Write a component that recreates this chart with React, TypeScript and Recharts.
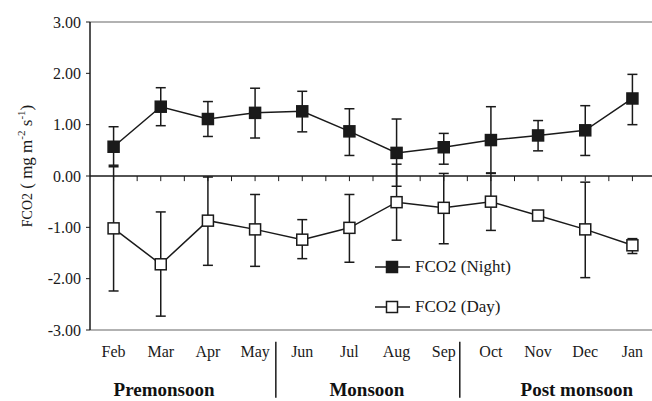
import React from 'react';
import {
  ComposedChart,
  Line,
  XAxis,
  YAxis,
  ErrorBar,
  ReferenceLine,
  ReferenceDot,
  Legend,
} from 'recharts';

const SERIF = '"Liberation Serif", "DejaVu Serif", serif';
const INK = '#1a1a1a';

const months = ['Feb', 'Mar', 'Apr', 'May', 'Jun', 'Jul', 'Aug', 'Sep', 'Oct', 'Nov', 'Dec', 'Jan'];

// night flux (filled squares) with the ends of its error bars
const nightMean = [0.57, 1.35, 1.11, 1.23, 1.26, 0.87, 0.45, 0.56, 0.7, 0.79, 0.89, 1.51];
const nightLow = [0.21, 0.98, 0.77, 0.74, 0.86, 0.4, -0.2, 0.23, 0.05, 0.49, 0.4, 1.0];
const nightHigh = [0.96, 1.72, 1.45, 1.71, 1.65, 1.31, 1.11, 0.83, 1.35, 1.08, 1.37, 1.98];

// day flux (open squares)
const dayMean = [-1.02, -1.72, -0.87, -1.04, -1.24, -1.01, -0.51, -0.62, -0.5, -0.77, -1.04, -1.35];
const dayLow = [-2.24, -2.73, -1.74, -1.76, -1.61, -1.68, -1.25, -1.32, -1.06, -0.82, -1.98, -1.51];
const dayHigh = [0.18, -0.7, -0.02, -0.36, -0.85, -0.36, 0.23, 0.05, 0.06, -0.72, -0.12, -1.22];

const yTicks = [-3, -2, -1, 0, 1, 2, 3];

// season captions under the month labels (position in month units)
const seasons = [
  { name: 'Premonsoon', at: 1.07 },
  { name: 'Monsoon', at: 5.37 },
  { name: 'Post monsoon', at: 9.82 },
];
const seasonDividers = [3.44, 7.34];

const data = months.map((m, i) => ({
  i,
  month: m,
  night: nightMean[i],
  nightErr: [nightMean[i] - nightLow[i], nightHigh[i] - nightMean[i]],
  day: dayMean[i],
  dayErr: [dayMean[i] - dayLow[i], dayHigh[i] - dayMean[i]],
}));

// small tick marks along the zero line, at month centres and boundaries
const zeroTicks = months.flatMap((_, i) => (i === 0 ? [i] : [i - 0.5, i]));

const series = [
  { key: 'night', name: 'FCO2 (Night)', fill: INK },
  { key: 'day', name: 'FCO2 (Day)', fill: '#fff' },
];

function squareDot(fill: string) {
  return (props: any) => {
    const { cx, cy, index } = props;
    if (cx == null || cy == null) return <g key={`e-${index}`} />;
    return (
      <rect
        key={`${fill}-${index}`}
        x={cx - 5.5}
        y={cy - 5.5}
        width={11}
        height={11}
        fill={fill}
        stroke={INK}
        strokeWidth={1.5}
      />
    );
  };
}

function YLabel(props: any) {
  const vb = props.viewBox || { x: 0, y: 22, width: 90, height: 308 };
  const x = vb.x + 32;
  const y = vb.y + vb.height / 2 - 10;
  return (
    <text
      x={x}
      y={y}
      transform={`rotate(-90, ${x}, ${y})`}
      textAnchor="middle"
      fill={INK}
      style={{ whiteSpace: 'pre', fontFamily: SERIF }}
    >
      <tspan fontSize={14}>FCO2</tspan>
      <tspan fontSize={17}> ( mg m</tspan>
      <tspan fontSize={11} dy={-7}>-2</tspan>
      <tspan fontSize={17} dy={7}> s</tspan>
      <tspan fontSize={11} dy={-7}>-1</tspan>
      <tspan fontSize={17} dy={7}>)</tspan>
    </text>
  );
}

function LegendBox() {
  return (
    <div style={{ fontFamily: SERIF }}>
      {series.map((s) => (
        <div key={s.key} style={{ display: 'flex', alignItems: 'center', height: 40 }}>
          <svg width={40} height={20}>
            <line x1={1} y1={10} x2={36} y2={10} stroke={INK} strokeWidth={1.5} />
            <rect x={12.5} y={4.5} width={11} height={11} fill={s.fill} stroke={INK} strokeWidth={1.5} />
          </svg>
          <span style={{ fontSize: 17, color: INK, marginLeft: 1, fontFamily: SERIF }}>{s.name}</span>
        </div>
      ))}
    </div>
  );
}

export default function App() {
  return (
    <div
      style={{
        position: 'absolute',
        left: 0,
        top: 0,
        width: 652,
        height: 401,
        overflow: 'hidden',
        background: '#fff',
        fontFamily: SERIF,
      }}
    >
      <ComposedChart width={656} height={401} data={data} margin={{ top: 22, right: 0, bottom: 0, left: 0 }}>
        <XAxis
          type="number"
          dataKey="i"
          domain={[-0.5, 11.5]}
          ticks={months.map((_, i) => i)}
          interval={0}
          tickFormatter={(v: number) => months[v]}
          axisLine={{ stroke: '#999', strokeWidth: 1.5 }}
          tickLine={false}
          tickMargin={10}
          height={71}
          tick={{ fontSize: 16, fill: INK, fontFamily: SERIF }}
        />
        <YAxis
          type="number"
          domain={[-3, 3]}
          ticks={yTicks}
          width={90}
          tickFormatter={(v: number) => v.toFixed(2)}
          axisLine={{ stroke: INK, strokeWidth: 1.5 }}
          tickLine={{ stroke: INK }}
          tickSize={4}
          tickMargin={5}
          tick={{ fontSize: 16, fill: INK, fontFamily: SERIF }}
          label={<YLabel />}
        />
        <ReferenceLine y={3} stroke="#999" strokeWidth={1.5} />
        <ReferenceLine y={0} stroke={INK} strokeWidth={1.5} />
        {zeroTicks.map((t) => (
          <ReferenceLine
            key={`zt-${t}`}
            segment={[
              { x: t, y: 0 },
              { x: t, y: -0.1 },
            ]}
            stroke={INK}
            strokeWidth={1}
          />
        ))}
        {seasonDividers.map((d) => (
          <ReferenceLine
            key={`sd-${d}`}
            segment={[
              { x: d, y: -3.23 },
              { x: d, y: -4.32 },
            ]}
            stroke={INK}
            strokeWidth={1.5}
            ifOverflow="visible"
          />
        ))}
        {seasons.map((s) => (
          <ReferenceDot
            key={s.name}
            x={s.at}
            y={-4.16}
            r={0}
            ifOverflow="visible"
            label={{
              value: s.name,
              position: 'center',
              fontSize: 19,
              fontWeight: 'bold',
              fill: '#111',
              fontFamily: SERIF,
            }}
          />
        ))}
        <Line
          type="linear"
          dataKey="night"
          name="FCO2 (Night)"
          stroke={INK}
          strokeWidth={1.5}
          dot={squareDot(INK)}
          activeDot={false}
          isAnimationActive={false}
        >
          <ErrorBar dataKey="nightErr" direction="y" width={5} stroke={INK} strokeWidth={1.5} />
        </Line>
        <Line
          type="linear"
          dataKey="day"
          name="FCO2 (Day)"
          stroke={INK}
          strokeWidth={1.5}
          dot={squareDot('#fff')}
          activeDot={false}
          isAnimationActive={false}
        >
          <ErrorBar dataKey="dayErr" direction="y" width={5} stroke={INK} strokeWidth={1.5} />
        </Line>
        <Legend
          layout="vertical"
          align="center"
          verticalAlign="middle"
          content={<LegendBox />}
          wrapperStyle={{ left: 374, top: 247, width: 220, height: 80 }}
        />
      </ComposedChart>
    </div>
  );
}
